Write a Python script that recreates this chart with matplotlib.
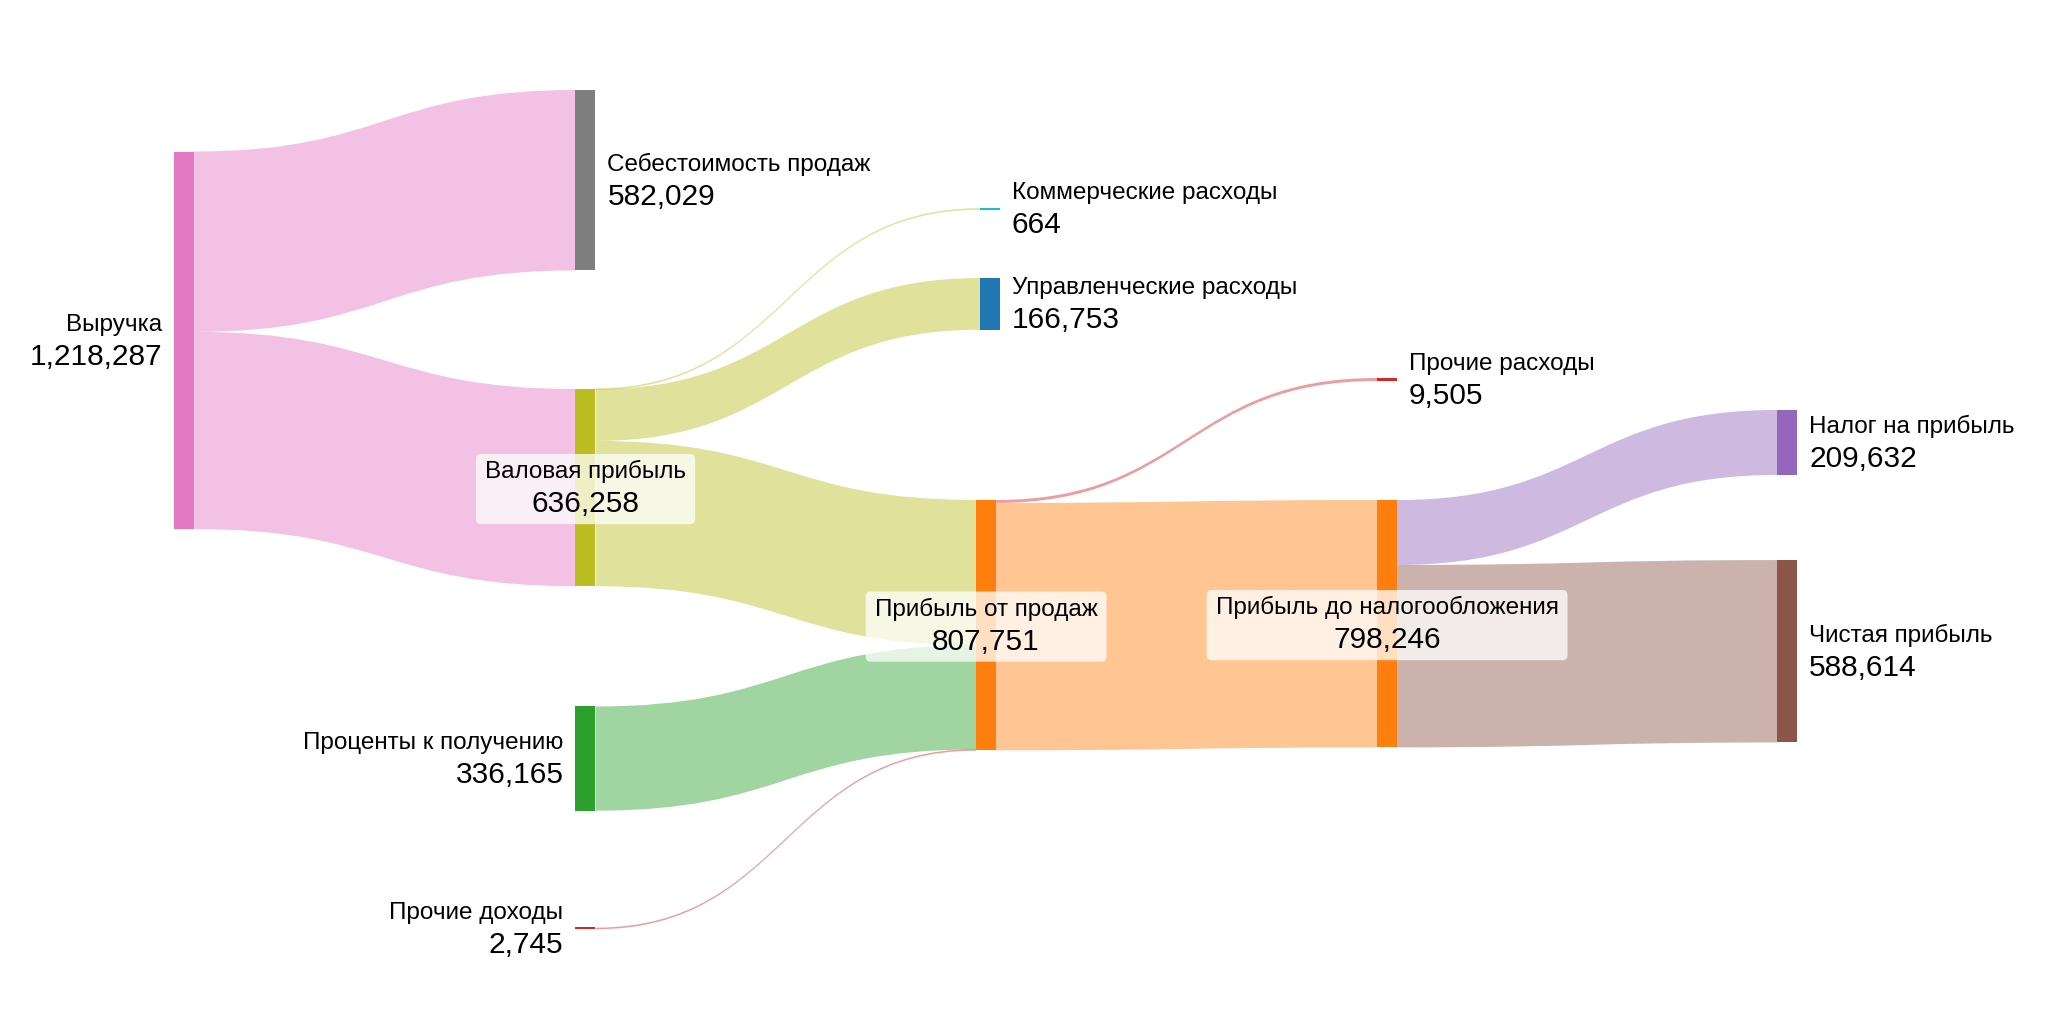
import matplotlib.pyplot as plt
from matplotlib.path import Path
from matplotlib.patches import PathPatch, Rectangle, FancyBboxPatch
from matplotlib.transforms import Bbox

plt.rcParams['font.family'] = ['Liberation Sans', 'DejaVu Sans']

# data
nodes = ['Выручка', 'Себестоимость продаж', 'Валовая прибыль', 'Проценты к получению',
         'Прочие доходы', 'Коммерческие расходы', 'Управленческие расходы',
         'Прибыль от продаж', 'Прочие расходы', 'Прибыль до налогообложения',
         'Налог на прибыль', 'Чистая прибыль']
node_colors = ['#e377c2', '#7f7f7f', '#bcbd22', '#2ca02c', '#d62728', '#17becf',
               '#1f77b4', '#ff7f0e', '#d62728', '#ff7f0e', '#9467bd', '#8c564b']
link_source = [0, 0, 2, 2, 2, 3, 4, 7, 7, 9, 9]
link_target = [1, 2, 5, 6, 7, 7, 7, 8, 9, 10, 11]
link_values = [582029, 636258, 664, 166753, 468841, 336165, 2745, 9505, 798246, 209632, 588614]
link_colors = ['#e377c2', '#e377c2', '#bcbd22', '#bcbd22', '#bcbd22', '#2ca02c',
               '#d62728', '#d62728', '#ff7f0e', '#9467bd', '#8c564b']

# layout (fractions of the canvas, like plotly node.x / node.y)
node_x = [0.085, 0.281, 0.281, 0.281, 0.281, 0.4785, 0.4785, 0.4766, 0.6724, 0.6724, 0.8677, 0.8677]
node_y = [0.3323, 0.176, 0.4762, 0.7408, 0.9067, 0.2041, 0.2968, 0.6105, 0.3706, 0.6091, 0.4321, 0.636]
label_side = ['left', 'right', 'center', 'left', 'left', 'right', 'right',
              'center', 'right', 'center', 'right', 'right']

W, H = 2048, 1024
thick = 20
scale = 3.099e-4  # px per unit

fig = plt.figure(figsize=(W / 100, H / 100), dpi=100)
ax = fig.add_axes([0, 0, 1, 1])
ax.set_xlim(0, W)
ax.set_ylim(H, 0)
ax.axis('off')

n = len(nodes)
vin = [0] * n
vout = [0] * n
for s, t, v in zip(link_source, link_target, link_values):
    vout[s] += v
    vin[t] += v
node_val = [max(a, b) for a, b in zip(vin, vout)]

left = [fx * W for fx in node_x]
cy = [fy * H for fy in node_y]
hgt = [v * scale for v in node_val]
top = [c - h / 2 for c, h in zip(cy, hgt)]

# stacking offsets of links at each node
out_off = list(top)
in_off = list(top)
link_ids = range(len(link_values))
src_pos = {}
tgt_pos = {}
for i in sorted(link_ids, key=lambda i: (link_source[i], cy[link_target[i]])):
    s = link_source[i]
    w = link_values[i] * scale
    src_pos[i] = (out_off[s], out_off[s] + w)
    out_off[s] += w
for i in sorted(link_ids, key=lambda i: (link_target[i], cy[link_source[i]])):
    t = link_target[i]
    w = link_values[i] * scale
    tgt_pos[i] = (in_off[t], in_off[t] + w)
    in_off[t] += w


def widen(a, b, m=1.6):
    if b - a < m:
        c = (a + b) / 2
        return c - m / 2, c + m / 2
    return a, b


for i in link_ids:
    s, t = link_source[i], link_target[i]
    x0 = left[s] + thick
    x1 = left[t]
    xm = (x0 + x1) / 2
    y0a, y0b = widen(*src_pos[i])
    y1a, y1b = widen(*tgt_pos[i])
    verts = [(x0, y0a), (xm, y0a), (xm, y1a), (x1, y1a), (x1, y1b),
             (xm, y1b), (xm, y0b), (x0, y0b), (x0, y0a)]
    codes = [Path.MOVETO, Path.CURVE4, Path.CURVE4, Path.CURVE4, Path.LINETO,
             Path.CURVE4, Path.CURVE4, Path.CURVE4, Path.CLOSEPOLY]
    ax.add_patch(PathPatch(Path(verts, codes), facecolor=link_colors[i],
                           alpha=0.45, lw=0, zorder=1))

for k in range(n):
    h = max(hgt[k], 2)
    ax.add_patch(Rectangle((left[k], cy[k] - h / 2), thick, h,
                           facecolor=node_colors[k], lw=0, zorder=2))

boxed = []
for k in range(n):
    val = f'{node_val[k]:,}'
    side = label_side[k]
    if side == 'left':
        x, ha = left[k] - 12, 'right'
    elif side == 'right':
        x, ha = left[k] + thick + 12, 'left'
    else:
        x, ha = left[k] + thick / 2, 'center'
    t1 = ax.text(x, cy[k] - 9.5, nodes[k], fontsize=17.5, ha=ha, va='baseline', zorder=4)
    t2 = ax.text(x, cy[k] + 24.5, val, fontsize=21.5, ha=ha, va='baseline', zorder=4)
    if side == 'center':
        boxed.append((t1, t2))

fig.canvas.draw()
r = fig.canvas.get_renderer()
inv = ax.transData.inverted()
for t1, t2 in boxed:
    bb = Bbox.union([t1.get_window_extent(r), t2.get_window_extent(r)])
    (ax0, ay0), (ax1, ay1) = inv.transform([[bb.x0, bb.y0], [bb.x1, bb.y1]])
    xa, xb = min(ax0, ax1) - 9, max(ax0, ax1) + 9
    ya, yb = min(ay0, ay1) - 6, max(ay0, ay1) + 6
    ax.add_patch(FancyBboxPatch((xa, ya), xb - xa, yb - ya,
                                boxstyle='round,pad=0,rounding_size=5',
                                facecolor='white', alpha=0.75, lw=0, zorder=3))

fig.savefig('out.png', dpi=100)
